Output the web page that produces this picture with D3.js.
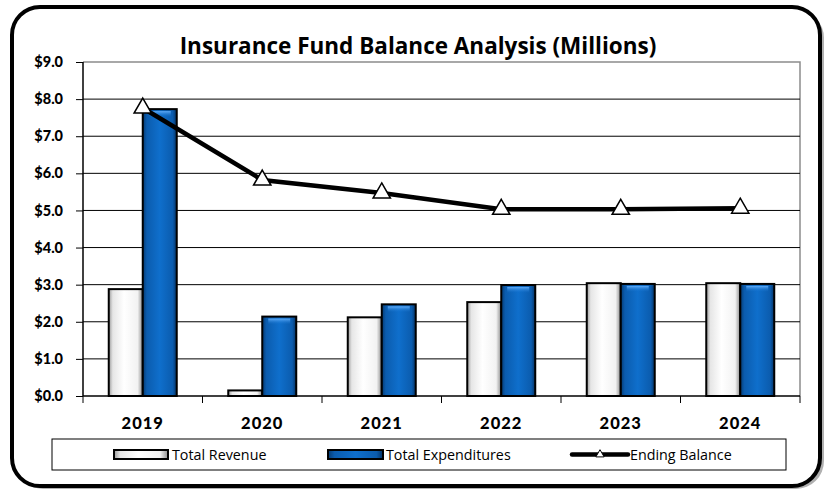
<!DOCTYPE html>
<html>
<head>
<meta charset="utf-8">
<script src="https://cdn.jsdelivr.net/npm/d3@7"></script>
<style>
    body { margin: 0; background: #fff; }
    svg { display: block; }
</style>
</head>
<body>
<svg id="chart"></svg>
<script>
"use strict";

// Chart data
const years = ["2019", "2020", "2021", "2022", "2023", "2024"];
const totalRevenue = [2.88, 0.15, 2.12, 2.53, 3.04, 3.04];
const totalExpenditures = [7.73, 2.14, 2.47, 2.99, 3.02, 3.02];
const endingBalance = [7.76, 5.82, 5.47, 5.03, 5.03, 5.06];
const yTicks = [0, 1, 2, 3, 4, 5, 6, 7, 8, 9];
const seriesNames = ["Total Revenue", "Total Expenditures", "Ending Balance"];

// Dimensions
const width = 826;
const height = 491;
const plot = { left: 83, right: 800, top: 62, bottom: 396 };

const svg = d3.select("#chart")
    .attr("width", width)
    .attr("height", height);

const defs = svg.append("defs");

// gradients for the bevelled bars
function barGradient(id, stops, vertical) {
    const g = defs.append("linearGradient")
        .attr("id", id)
        .attr("x1", 0).attr("x2", vertical ? 0 : 1)
        .attr("y1", 0).attr("y2", vertical ? 1 : 0);
    stops.forEach(s => g.append("stop").attr("offset", s[0]).attr("stop-color", s[1]).attr("stop-opacity", s[2] === undefined ? 1 : s[2]));
}
barGradient("gradWhite", [[0, "#9a9a9a"], [0.12, "#e6e6e6"], [0.45, "#ffffff"], [0.85, "#f2f2f2"], [1, "#8c8c8c"]]);
barGradient("gradBlue", [[0, "#063a70"], [0.12, "#0b5cae"], [0.5, "#0f6fcc"], [0.88, "#0b5cae"], [1, "#053263"]]);
barGradient("gradTop", [[0, "#6ab4ff", 0.9], [1, "#0f6fcc", 0]], true);

// outer frame with shadow
svg.append("rect")
    .attr("x", 15).attr("y", 10)
    .attr("width", 809).attr("height", 479)
    .attr("rx", 28)
    .attr("fill", "#b0b0b0");
svg.append("rect")
    .attr("x", 12).attr("y", 7)
    .attr("width", 808).attr("height", 479)
    .attr("rx", 28)
    .attr("fill", "#fff")
    .attr("stroke", "#000")
    .attr("stroke-width", 4);

// title
svg.append("text")
    .attr("x", 418)
    .attr("y", 54)
    .attr("text-anchor", "middle")
    .style("font-family", "'Open Sans', sans-serif")
    .style("font-weight", 700)
    .style("font-size", "22.5px")
    .text("Insurance Fund Balance Analysis (Millions)");

// Scales
const xScale = d3.scaleBand()
    .domain(years)
    .range([plot.left, plot.right]);

const yScale = d3.scaleLinear()
    .domain([0, 9])
    .range([plot.bottom, plot.top]);

const barWidth = 34;

// plot border (grey top and right)
svg.append("path")
    .attr("d", `M${plot.left},${plot.top}H${plot.right}V${plot.bottom}`)
    .attr("fill", "none")
    .attr("stroke", "#8c8c8c")
    .attr("stroke-width", 1.5);

// gridlines
svg.append("g")
    .selectAll("line")
    .data(yTicks.filter(d => d > 0 && d < 9))
    .join("line")
    .attr("x1", plot.left).attr("x2", plot.right)
    .attr("y1", d => yScale(d)).attr("y2", d => yScale(d))
    .attr("stroke", "#000")
    .attr("stroke-width", 1);

// y axis
const yAxis = svg.append("g")
    .attr("transform", `translate(${plot.left},0)`)
    .call(d3.axisLeft(yScale).tickValues(yTicks).tickSize(7).tickPadding(13)
        .tickFormat(d => "$" + d3.format(".1f")(d)));
yAxis.select(".domain").attr("stroke-width", 1.5).attr("d", `M0,${plot.top}V${plot.bottom}`);
yAxis.selectAll("text")
    .style("font-family", "Lato, sans-serif")
    .style("font-weight", 900)
    .style("font-size", "14.5px")
    .attr("fill", "#000");

// bars
const groups = svg.append("g")
    .selectAll("g")
    .data(years)
    .join("g");

groups.append("rect")
    .attr("x", d => xScale(d) + xScale.bandwidth() / 2 - barWidth)
    .attr("y", (d, i) => yScale(totalRevenue[i]))
    .attr("width", barWidth)
    .attr("height", (d, i) => yScale(0) - yScale(totalRevenue[i]))
    .attr("fill", "url(#gradWhite)")
    .attr("stroke", "#000")
    .attr("stroke-width", 2);

groups.append("rect")
    .attr("x", d => xScale(d) + xScale.bandwidth() / 2)
    .attr("y", (d, i) => yScale(totalExpenditures[i]))
    .attr("width", barWidth)
    .attr("height", (d, i) => yScale(0) - yScale(totalExpenditures[i]))
    .attr("fill", "url(#gradBlue)")
    .attr("stroke", "#000")
    .attr("stroke-width", 2);

// light bevel on top of the blue bars
groups.append("rect")
    .attr("x", d => xScale(d) + xScale.bandwidth() / 2 + 6)
    .attr("y", (d, i) => yScale(totalExpenditures[i]) + 2)
    .attr("width", barWidth - 12)
    .attr("height", 6)
    .attr("fill", "url(#gradTop)");

// x axis
const xAxis = svg.append("g")
    .attr("transform", `translate(0,${plot.bottom})`)
    .call(d3.axisBottom(xScale).tickSize(0).tickPadding(21));
xAxis.select(".domain").attr("stroke-width", 1.5).attr("d", `M${plot.left},0H${plot.right}`);
xAxis.selectAll("text")
    .style("font-family", "Lato, sans-serif")
    .style("font-weight", 900)
    .style("font-size", "16.5px")
    .style("letter-spacing", "1px")
    .attr("fill", "#000");
// category separators
xAxis.append("g")
    .selectAll("line")
    .data(years.concat(["end"]))
    .join("line")
    .attr("x1", (d, i) => i < years.length ? xScale(d) : plot.right)
    .attr("x2", (d, i) => i < years.length ? xScale(d) : plot.right)
    .attr("y1", 0).attr("y2", 7)
    .attr("stroke", "#000");

// ending balance line
const lineValues = d3.line()
    .x((d, i) => xScale(years[i]) + xScale.bandwidth() / 2)
    .y(d => yScale(d));

svg.append("path")
    .datum(endingBalance)
    .attr("d", lineValues)
    .attr("fill", "none")
    .attr("stroke", "#000")
    .attr("stroke-width", 4.5);

const triangle = d3.symbol().type(d3.symbolTriangle).size(130);
svg.append("g")
    .selectAll("path")
    .data(endingBalance)
    .join("path")
    .attr("transform", (d, i) => `translate(${xScale(years[i]) + xScale.bandwidth() / 2},${yScale(d)})`)
    .attr("d", triangle)
    .attr("fill", "#fff")
    .attr("stroke", "#000")
    .attr("stroke-width", 1.5);

// legend
const legend = svg.append("g");
legend.append("rect")
    .attr("x", 52).attr("y", 439)
    .attr("width", 734).attr("height", 31)
    .attr("fill", "#fff")
    .attr("stroke", "#000")
    .attr("stroke-width", 1);

const legendX = [114, 328, 572];
const legendY = 454.5;

legend.append("rect")
    .attr("x", legendX[0]).attr("y", legendY - 4.5)
    .attr("width", 54).attr("height", 9)
    .attr("fill", "url(#gradWhite)")
    .attr("stroke", "#000").attr("stroke-width", 2);
legend.append("rect")
    .attr("x", legendX[1]).attr("y", legendY - 4.5)
    .attr("width", 55).attr("height", 9)
    .attr("fill", "url(#gradBlue)")
    .attr("stroke", "#000").attr("stroke-width", 2);
legend.append("line")
    .attr("x1", legendX[2]).attr("x2", legendX[2] + 56)
    .attr("y1", legendY).attr("y2", legendY)
    .attr("stroke", "#000").attr("stroke-width", 4.5)
    .attr("stroke-linecap", "round");
legend.append("path")
    .attr("transform", `translate(${legendX[2] + 28},${legendY})`)
    .attr("d", d3.symbol().type(d3.symbolTriangle).size(30))
    .attr("fill", "#fff")
    .attr("stroke", "#000")
    .attr("stroke-width", 1);

legend.selectAll("text.lbl")
    .data(seriesNames)
    .join("text")
    .attr("class", "lbl")
    .attr("x", (d, i) => legendX[i] + 58)
    .attr("y", legendY + 5)
    .style("font-family", "'Open Sans', sans-serif")
    .style("font-size", "14.3px")
    .text(d => d);
</script>
</body>
</html>
